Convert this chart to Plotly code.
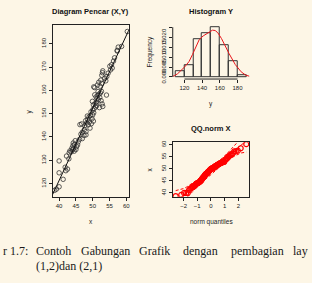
import numpy as np
import plotly.graph_objects as go
from statistics import NormalDist

# ---------------- data ----------------
x_vals = [38.7, 39.2, 40.0,
          41.2, 40.0, 42.0, 41.8, 42.5, 40.0,
          42.2, 42.9, 43.0, 43.2, 43.6, 43.8, 44.0, 44.1, 44.3, 44.5,
          44.6, 44.2, 45.0, 45.2, 44.8, 45.5, 46.1, 46.9, 45.7,
          46.5, 46.9, 47.4, 46.2, 46.7, 47.6, 47.5, 48.0, 48.2, 48.5, 48.7,
          48.9, 49.0, 49.3, 49.6, 49.8, 50.0, 48.4, 47.9, 49.2, 50.2, 48.0,
          49.5, 50.0, 50.4, 50.2, 50.7, 50.9, 51.1, 51.3, 51.0, 51.5, 51.7,
          51.9, 52.1, 52.3, 51.6, 50.6, 52.5, 52.8, 53.0, 52.0, 54.1, 49.9,
          50.3, 52.6, 51.2,
          50.6, 50.3, 51.4, 51.8, 52.2, 52.7, 52.4, 52.7, 52.9, 53.0, 53.6,
          54.2, 54.6, 55.3, 55.8, 53.9,
          55.1, 55.6, 56.5, 56.2, 57.3, 57.3, 57.6, 58.6,
          60.3]
y_vals = [117.1, 117.6, 118.6,
          121.8, 124.6, 125.5, 127.0, 126.2, 129.7,
          131.8, 130.6, 133.2, 134.0, 133.6, 135.2, 134.5, 136.2, 135.0, 133.9,
          136.8, 137.4, 134.6, 135.8, 138.4, 136.6, 139.0, 139.3, 137.9,
          141.2, 142.0, 140.6, 145.3, 145.6, 144.8, 143.1, 142.3, 146.0, 147.5, 145.2,
          148.6, 146.4, 149.2, 145.7, 147.8, 149.5, 149.0, 147.0, 143.8, 146.8, 140.9,
          150.8, 151.6, 152.2, 153.8, 154.3, 152.9, 155.0, 156.4, 157.2, 157.9, 156.0,
          158.4, 157.0, 158.9, 159.5, 158.1, 155.6, 154.2, 153.1, 152.6, 158.0, 155.3,
          150.4, 159.6, 153.5,
          161.2, 161.5, 162.3, 163.5, 161.8, 163.0, 164.4, 166.5, 167.6, 168.4, 165.2,
          166.0, 167.4, 168.8, 169.6, 164.1,
          170.4, 171.0, 174.0, 172.6, 176.9, 177.2, 178.6, 178.9,
          185.3]

scatter_x_ticks = [40, 45, 50, 55, 60]
scatter_y_ticks = [120, 130, 140, 150, 160, 170, 180]
hist_break_start, hist_break_end, hist_break_size = 110, 190, 10
hist_x_ticks = [120, 140, 160, 180]
hist_y_ticks = [0, 0.005, 0.010, 0.015, 0.020, 0.025]
hist_y_ticktext = ["0.000", "0.005", "0.010", "0.015", "0.020", ""]
qq_x_ticks = [-2, -1, 0, 1, 2]
qq_y_ticks = [40, 45, 50, 55, 60]

titles = ["Diagram Pencar (X,Y)", "Histogram Y", "QQ.norm X"]
caption_words = ["r 1.7:", "Contoh", "Gabungan", "Grafik", "dengan", "pembagian", "lay"]
caption_line2 = "(1,2)dan (2,1)"

# ---------------- layout constants ----------------
W, H = 312, 283
BG = "#FDF6E6"
FONT = "Liberation Sans"
INK = "#222222"


def px(xp):
    return xp / W


def py(yp):
    return 1 - yp / H


x = np.array(x_vals)
y = np.array(y_vals)

# regression
b1, b0 = np.polyfit(x, y, 1)
sx_range = [38.04, 60.77]
sy_range = [114.3, 188.3]

# density of y (R default bw.nrd0)
sd = y.std(ddof=1)
iqr = np.subtract(*np.percentile(y, [75, 25]))
bw = 0.9 * min(sd, iqr / 1.34) * len(y) ** (-0.2)
grid = np.linspace(y.min() - 3 * bw, y.max() + 3 * bw, 400)
dens = np.exp(-0.5 * ((grid[:, None] - y[None, :]) / bw) ** 2).sum(axis=1) / (len(y) * bw * np.sqrt(2 * np.pi))

# QQ
nd = NormalDist()
n = len(x)
xs = np.sort(x)
P = (np.arange(1, n + 1) - 0.5) / n
z = np.array([nd.inv_cdf(p) for p in P])
q1, q3 = np.quantile(x, [0.25, 0.75])
slope = (q3 - q1) / (nd.inv_cdf(0.75) - nd.inv_cdf(0.25))
inter = q1 - slope * nd.inv_cdf(0.25)
fit = inter + slope * z
dn = np.array([nd.pdf(v) for v in z])
se = slope / dn * np.sqrt(P * (1 - P) / n)
upper = fit + 1.96 * se
lower = fit - 1.96 * se

fig = go.Figure()

# scatter
fig.add_trace(go.Scatter(x=x, y=y, mode="markers", xaxis="x", yaxis="y",
                         marker=dict(symbol="circle-open", size=4.5, color="#333333", line=dict(width=0.8))))
fig.add_trace(go.Scatter(x=sx_range, y=[b0 + b1 * v for v in sx_range], mode="lines", xaxis="x", yaxis="y",
                         line=dict(color="#111111", width=1)))

# histogram
fig.add_trace(go.Histogram(x=y, xaxis="x2", yaxis="y2", histnorm="probability density",
                           xbins=dict(start=hist_break_start, end=hist_break_end, size=hist_break_size),
                           marker=dict(color="rgba(0,0,0,0)", line=dict(color="#333333", width=1))))
fig.add_trace(go.Scatter(x=grid, y=dens, mode="lines", xaxis="x2", yaxis="y2",
                         line=dict(color="#E8151B", width=1)))

# qq
fig.add_trace(go.Scatter(x=[-3.5, 3.5], y=[inter - 3.5 * slope, inter + 3.5 * slope], mode="lines",
                         xaxis="x3", yaxis="y3", line=dict(color="red", width=1)))
fig.add_trace(go.Scatter(x=z, y=upper, mode="lines", xaxis="x3", yaxis="y3",
                         line=dict(color="red", width=1, dash="3px,2px")))
fig.add_trace(go.Scatter(x=z, y=lower, mode="lines", xaxis="x3", yaxis="y3",
                         line=dict(color="red", width=1, dash="3px,2px")))
fig.add_trace(go.Scatter(x=z, y=xs, mode="markers", xaxis="x3", yaxis="y3",
                         marker=dict(symbol="circle-open", size=5, color="red", line=dict(width=1.2))))

tickfont = dict(family=FONT, size=6, color=INK)
common = dict(ticks="outside", ticklen=3, tickwidth=1, tickcolor=INK, tickfont=tickfont,
              showgrid=False, zeroline=False)
box = dict(showline=True, linecolor=INK, linewidth=1, mirror=True)

sc_dom_x = [px(52.7), px(129.3)]
rc_dom_x = [px(173.3), px(250)]
fig.update_layout(
    width=W, height=H, margin=dict(l=0, r=0, t=0, b=0),
    paper_bgcolor=BG, plot_bgcolor=BG, showlegend=False, bargap=0,
    xaxis=dict(domain=sc_dom_x, anchor="y", range=sx_range, tickvals=scatter_x_ticks, **common, **box),
    yaxis=dict(domain=[py(199), py(23)], anchor="x", range=sy_range, tickvals=scatter_y_ticks,
               tickangle=-90, **common, **box),
    xaxis2=dict(domain=rc_dom_x, anchor="y2", range=[106.8, 193.2], tickvals=hist_x_ticks, **common),
    yaxis2=dict(domain=[py(78.7), py(23.7)], anchor="x2", range=[-0.00104, 0.026], tickvals=hist_y_ticks,
                ticktext=hist_y_ticktext, tickangle=-90, **common),
    xaxis3=dict(domain=rc_dom_x, anchor="y3", range=[-2.79, 2.79], tickvals=qq_x_ticks,
                ticktext=["\u22122", "\u22121", "0", "1", "2"], **common, **box),
    yaxis3=dict(domain=[py(199), py(143.3)], anchor="x3", range=[38.4, 61.1], tickvals=qq_y_ticks,
                tickangle=-90, **common, **box),
)

# R-style axis lines for the histogram (from first to last tick)
fig.add_shape(type="line", xref="x2", yref="y2 domain", x0=hist_x_ticks[0], x1=hist_x_ticks[-1], y0=0, y1=0,
              line=dict(color=INK, width=1))
fig.add_shape(type="line", xref="x2 domain", yref="y2", x0=0, x1=0, y0=hist_y_ticks[0], y1=hist_y_ticks[-1],
              line=dict(color=INK, width=1))

ann = []
tfont = dict(family=FONT, size=7.5, color="#111111")
lfont = dict(family=FONT, size=6.5, color=INK)
for t, xp, yp in [(titles[0], 91, 9.5), (titles[1], 212, 9.5), (titles[2], 212, 129.5)]:
    ann.append(dict(text="<b>%s</b>" % t, x=px(xp), y=py(yp), xref="paper", yref="paper",
                    showarrow=False, font=tfont, xanchor="center", yanchor="middle"))
for t, xp, yp, rot in [("x", 91, 224, 0), ("y", 29.3, 111.7, -90), ("y", 212, 104, 0),
                       ("Frequency", 150, 51, -90), ("norm quantiles", 212, 225, 0), ("x", 149.5, 171, -90)]:
    ann.append(dict(text=t, x=px(xp), y=py(yp), xref="paper", yref="paper", showarrow=False,
                    font=lfont, textangle=rot, xanchor="center", yanchor="middle"))

cfont = dict(family="Liberation Serif", size=12, color="#1a1a1a")
word_x = [1, 34, 79, 137, 182, 230, 292]
for w, xp in zip(caption_words, word_x):
    ann.append(dict(text=w, x=px(xp), y=py(254), xref="paper", yref="paper", showarrow=False,
                    font=cfont, xanchor="left", yanchor="middle"))
ann.append(dict(text=caption_line2, x=px(34), y=py(270), xref="paper", yref="paper", showarrow=False,
                font=cfont, xanchor="left", yanchor="middle"))
fig.update_layout(annotations=ann)

fig.write_html("out.html")
